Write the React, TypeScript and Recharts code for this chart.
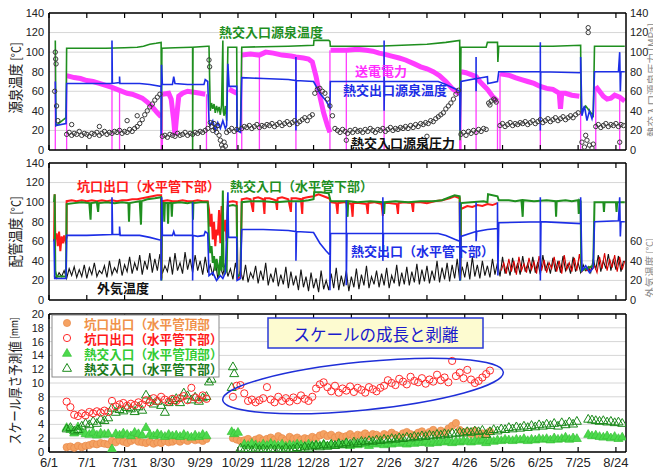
import React from 'react'
import { ComposedChart, Line, Scatter, XAxis, YAxis, CartesianGrid } from 'recharts'

type Pt = [number, number]
type GapPt = [number, number | null]

// x is days since 6/1
const dateLabels = ['6/1', '7/1', '7/31', '8/30', '9/29', '10/29', '11/28', '12/28', '1/27', '2/26', '3/27', '4/26', '5/26', '6/25', '7/25', '8/24']
const dayTicks = dateLabels.map((_, i) => i * 30)
const tempTicks = [0, 20, 40, 60, 80, 100, 120, 140]
const pipeRightTicks = [0, 20, 40, 60]
const scaleTicks = [0, 2, 4, 6, 8, 10, 12, 14, 16, 18, 20]

// ---- panel 1: source temperatures ----
const srcInletPts: Pt[] = [
  [5, 112], [5.5, 25], [13.5, 33], [14, 104], [30, 104], [45, 104], [60, 104.5], [70, 105], [75, 106], [80, 108], [85, 109], [89, 110],
  [89.3, 20], [89.6, 104], [100, 104.5], [113, 105], [114, 105], [114, 0], [114.3, 105], [126, 106], [127, 106],
  [128, 40], [129, 48], [130, 42], [131, 47], [132, 38], [133, 45], [134, 40], [135, 44], [136, 36], [137, 46], [138, 112], [138.3, 40], [139, 35], [140, 45], [141, 30],
  [142, 105], [149, 105], [149.3, 20], [152, 22], [153, 105], [170, 105.5], [190, 106], [210, 107], [210.3, 112], [222, 112], [223, 111], [223.3, 106],
  [240, 106], [260, 106], [280, 107], [300, 108], [315, 110], [326, 112], [326.3, 10], [327, 105], [347, 105], [348, 110], [356, 110], [356.3, 90], [357, 106],
  [380, 106], [400, 106], [422, 107], [422.3, 40], [426, 45], [432, 35], [433, 106], [445, 106], [457, 106],
]
const srcOutletPts: Pt[] = [
  [5, 70], [5.5, 25], [13.5, 27], [14, 68], [30, 68], [50, 68], [50, 112], [50.3, 68], [56, 69], [56, 75], [56.3, 68], [72, 68], [80, 67], [89, 65],
  [89, 15], [89.3, 87], [90, 67], [98, 67], [99, 75], [100, 68], [110, 67], [123, 67], [124, 72], [126, 70],
  [127, 30], [128, 25], [130, 30], [132, 20], [134, 28], [136, 22], [138, 30], [140, 22], [141, 25], [142, 88], [143, 65], [149, 65], [149.3, 20], [152, 18],
  [153, 74], [170, 73], [190, 72], [196, 71], [196, 95], [196, 20], [196.3, 71], [210, 70], [215, 58], [220, 50], [223, 43], [223.3, 70],
  [240, 70], [266, 70], [266, 112], [266, 40], [266.3, 70], [290, 70], [309, 70], [315, 67], [323, 62], [326, 60], [326.3, 20], [327, 70],
  [339, 73], [339, 95], [339, 60], [339.3, 73], [348, 75], [348.3, 68], [356, 70], [357, 80], [390, 80], [390, 110], [390, 20], [390.3, 80],
  [422, 79], [422, 95], [423, 35], [425, 45], [427, 30], [429, 40], [431, 32], [432, 38], [433, 80], [452, 80], [453, 100], [453.5, 60], [454, 80], [457, 80],
]
const powerPts: GapPt[] = [
  [14, 76], [20, 74], [25, 73], [30, 71], [35, 70], [40, 68], [45, 66], [50, 64], [56, 61], [62, 58], [66, 57], [70, 55], [74, 53], [78, 49], [82, 44], [86, 38], [89, 34], [89.5, null],
  [90, 57], [95, 58], [97, 52], [99, 30], [100, 15], [101, 30], [103, 55], [106, 58], [110, 60], [115, 59], [120, 58], [124, 57], [125, null],
  [143, 62], [146, 60], [149, 58], [150, null],
  [153, 97], [160, 98], [167, 97], [172, 100], [178, 99], [185, 97], [192, 96], [196, 95], [202, 94], [206, 93], [209, 90], [212, 75], [215, 55], [218, 38], [221, 25], [223, 18], [223.2, null],
  [223.5, 102], [230, 102], [236, 102], [245, 103], [252, 102], [257, 101], [262, 99], [266, 98], [272, 96], [278, 94], [283, 92], [290, 88], [295, 85], [300, 83], [305, 80], [310, 76], [315, 70], [320, 63], [323, 60], [326, 57], [326.5, null],
  [327, 80], [331, 79], [335, 77], [339, 75], [342, 70], [345, 66], [348, 62], [352, 55], [356, 50], [357, null],
  [358, 78], [362, 77], [366, 76], [370, 74], [375, 72], [380, 70], [385, 68], [390, 65], [395, 63], [400, 62], [405, 58], [406, 42], [407, 58], [410, 58], [415, 56], [421, 55], [422, null],
  [434, 65], [437, 60], [440, 55], [443, 52], [446, 53], [449, 56], [453, 54], [457, 50],
]
// days where power drops to zero, with the level it drops from
const powerDrops: Pt[] = [
  [5, 100], [14, 76], [50, 64], [56, 61], [89, 34], [90, 57], [125, 57], [149, 58], [153, 97], [167, 97], [196, 95], [223, 102], [236, 102],
  [266, 98], [326, 57], [327, 80], [339, 75], [356, 50], [358, 78], [390, 65], [422, 55], [434, 65], [453, 54],
]
// pressure, sampled every 2 days in runs
const pressRunA = [16, 18, 15, 17, 16, 19, 15, 17, 16, 14, 17, 16, 18, 15, 17, 19, 16, 18, 17, 19, 18, 20, 17, 19, 18, 21, 19, 22, 24, 27, 31, 36, 40, 44, 47, 51, 54, 57]
const pressRunB = [14, 15, 13, 16, 15, 14, 17, 15, 16, 18, 15, 17, 16, 18, 17, 19, 18, 20, 22]
const pressRunD = [22, 24, 23, 25, 22, 24, 26, 23, 25, 24, 26, 25, 27, 24, 26, 28, 25, 27, 29, 26, 28, 30, 27, 29, 31, 33, 30, 34, 36, 58, 62, 63, 60, 58, 52, 45, 35]
const pressRunE = [22, 20, 18, 21, 19, 17, 20, 18, 21, 19, 20, 18, 21, 19, 22, 20, 18, 21, 20, 22, 19, 21, 23, 20, 22, 21, 23, 22, 24, 22, 25, 23, 26, 24, 27, 26, 28, 27, 30, 29, 32, 34, 36, 38, 42, 45, 48, 52, 57, 61]
const pressRunF = [16, 18, 15, 19, 17, 20, 18, 21, 19, 22, 21]
const pressRunG = [25, 27, 24, 26, 28, 25, 27, 26, 28, 27, 29, 26, 28, 30, 27, 29, 31, 28, 30, 32, 29, 31, 33, 30, 32, 34, 31, 33, 35, 33, 36, 38]
const pressRunI = [24, 26, 23, 25, 27, 24, 26, 25, 27, 24, 26, 25]
const pressLoose: Pt[] = [
  [4.5, 60], [5, 100], [5.3, 93], [5.6, 88], [6, 45], [7, 30], [18, 26], [40, 24], [62, 30], [70, 35],
  [127, 92], [127.5, 85], [128, 28], [129, 24], [130, 20], [131, 27], [132, 22], [133, 18], [134, 25], [135, 15], [136, 10], [137, 5], [138, 2], [139, 8], [140, 4], [141, 18],
  [143, 20], [145, 22], [147, 19], [149, 21], [236, 10], [300, 14], [349, 48], [350, 46], [351, 50], [353, 52], [354, 51], [355, 49],
  [423, 8], [425, 3], [426, 15], [427, 10], [429, 5], [431, 2], [432, 6], [428, 125], [428, 120], [453, 8],
]

// ---- panel 2: pipe temperatures ----
const wellheadPts: Pt[] = [
  [4, 60], [4.5, 108], [5, 62], [6, 68], [7, 55], [8, 70], [9, 50], [10, 65], [11, 58], [12, 66], [13, 60], [14, 64],
  [14, 101], [18, 102], [22, 101], [26, 102], [30, 101], [34, 102], [38, 101], [42, 102], [46, 101], [50, 102], [54, 101], [58, 102], [62, 102], [66, 103], [70, 103], [74, 104], [78, 105], [82, 106], [86, 107], [89, 107],
  [89.3, 22], [89.7, 101], [94, 102], [98, 101], [102, 101], [106, 102], [110, 101], [114, 101], [118, 102], [122, 101], [126, 101],
  [127, 92], [128, 75], [129, 88], [130, 62], [131, 80], [132, 55], [133, 72], [134, 66], [135, 92], [136, 58], [137, 96], [138, 85], [139, 70], [140, 82], [141, 60],
  [142, 100], [146, 101], [149, 100], [149.5, 22], [152, 24],
  [153, 103], [157, 104], [160, 103], [162, 90], [162.5, 104], [166, 105], [170, 103], [171, 88], [171.5, 104], [175, 104], [180, 102], [181, 92], [181.5, 104], [185, 105], [190, 103], [192, 90], [192.5, 104], [196, 104], [200, 103], [201, 88], [201.5, 104], [205, 105], [210, 106], [214, 108], [218, 106], [222, 104],
  [223, 103], [223.5, 100], [228, 99], [229, 88], [229.5, 99], [234, 100], [240, 98], [241, 85], [241.5, 99], [246, 99], [252, 98], [253, 88], [253.5, 99], [258, 100], [264, 98], [265, 86], [265.5, 99], [270, 99], [276, 98], [277, 88], [277.5, 99], [282, 100], [288, 99], [289, 90], [289.5, 100], [295, 100], [300, 99], [306, 101], [312, 102], [318, 104], [322, 106], [326, 104],
  [326.5, 22], [327, 93], [332, 96], [336, 95], [340, 97], [344, 96], [348, 98], [352, 97], [356, 99],
]
const hxInletPts: Pt[] = [
  [4, 100], [4.5, 108], [5, 30], [6, 24], [13.5, 24],
  [14, 98], [20, 99], [26, 100], [32, 99], [33, 82], [33.5, 99], [38, 100], [39, 90], [39.5, 99], [46, 100], [52, 99], [58, 100], [63, 99], [63.5, 80], [64, 99], [68, 100], [72, 101], [73, 77], [73.5, 101], [78, 103], [84, 104], [89, 105],
  [89.3, 20], [89.7, 99], [91, 99], [91.5, 80], [92, 99], [94, 99], [94.5, 78], [95, 99], [97, 99], [97.5, 85], [98, 99], [104, 100], [110, 99], [114, 100], [114.3, 82], [114.6, 99], [120, 100], [126, 100],
  [127, 60], [128, 48], [129, 55], [130, 38], [131, 45], [132, 30], [133, 42], [134, 35], [135, 25], [136, 45], [137, 30], [138, 112], [138.5, 35], [140, 28], [141, 30],
  [142, 96], [146, 97], [149, 96], [149.5, 24], [152, 26],
  [153, 100], [160, 101], [170, 101], [180, 100], [190, 101], [200, 101], [206, 102], [210, 103], [210.5, 110], [216, 110], [222, 109], [223, 104], [223.5, 101],
  [230, 101], [236, 101], [237, 85], [237.5, 101], [245, 100], [255, 101], [265, 100], [266, 88], [266.5, 100], [275, 101], [285, 100], [295, 101], [305, 101], [312, 102], [318, 105], [322, 107], [326, 106],
  [326.5, 20], [327, 99], [335, 100], [345, 101], [348, 100], [348.5, 108], [356, 106], [357, 102], [365, 102], [370, 101], [375, 102], [376, 85], [376.5, 102], [385, 101], [395, 102], [402, 101], [402.5, 85], [403, 101], [410, 102], [415, 101], [420, 102], [420.5, 88], [421, 102], [422, 101],
  [422.5, 30], [432, 35], [433, 100], [440, 100], [440.5, 90], [441, 100], [450, 100], [450.5, 90], [451, 100], [457, 100],
]
const hxOutletPts: Pt[] = [
  [4, 62], [4.5, 22], [13.5, 22], [14, 66], [30, 66], [50, 67], [50, 105], [50.5, 67], [56, 67], [56, 75], [56.5, 66], [72, 66], [80, 64], [89, 61],
  [89, 20], [89.5, 105], [90, 66], [98, 66], [99, 70], [100, 66], [114, 66], [114, 100], [114, 20], [114.3, 66], [118, 65], [123, 66], [124, 70], [126, 68],
  [127, 25], [130, 28], [133, 20], [136, 25], [138, 22], [140, 28], [142, 110], [142.5, 64], [149, 64], [149.3, 20], [152, 22],
  [153, 72], [170, 72], [190, 71], [196, 70], [196, 100], [196, 40], [196.5, 70], [210, 69], [215, 58], [220, 50], [223, 46], [223, 100], [223, 10], [223.5, 68],
  [236, 68], [236, 102], [236, 15], [236.5, 68], [250, 68], [265, 68], [265, 105], [265, 40], [265.5, 68], [290, 68], [309, 68], [315, 66], [322, 62], [326, 60], [326, 100], [326.3, 20],
  [327, 65], [339, 70], [339, 100], [339, 60], [339.5, 70], [348, 72], [356, 73], [356, 100], [356.3, 25], [357, 79], [390, 80], [390, 105], [390, 20], [390.5, 80],
  [422, 78], [422, 105], [423, 30], [426, 35], [429, 28], [432, 33], [433, 80], [452, 81], [453, 105], [453.5, 65], [454, 80], [457, 80],
]
// outdoor air, every 2 days from day 4
const outdoorVals = [
  25, 22, 28, 24, 30, 22, 32, 25, 34, 23, 31, 24, 36, 22, 33, 26, 38, 24, 30, 27,
  35, 23, 40, 26, 33, 28, 42, 25, 36, 29, 44, 27, 38, 30, 46, 26, 40, 31, 48, 28,
  42, 30, 47, 27, 35, 29, 44, 26, 48, 30, 38, 27, 49, 31, 42, 28, 46, 30, 40, 26,
  44, 28, 36, 25, 40, 22, 34, 26, 38, 24, 32, 21, 38, 23, 30, 20, 36, 18, 28, 22,
  35, 17, 30, 20, 38, 15, 27, 18, 33, 14, 26, 16, 34, 12, 29, 15, 25, 10, 31, 13,
  24, 9, 28, 12, 22, 8, 30, 11, 20, 10, 27, 12, 33, 10, 25, 14, 30, 9, 24, 13,
  32, 11, 26, 15, 35, 12, 24, 16, 30, 13, 27, 15, 33, 12, 25, 17, 36, 14, 28, 16,
  34, 15, 29, 18, 37, 16, 31, 19, 35, 17, 30, 20, 40, 18, 33, 21, 38, 19, 36, 22,
  42, 20, 34, 23, 39, 21, 44, 24, 36, 22, 40, 25, 35, 23, 42, 26, 38, 24, 44, 27,
  36, 25, 43, 28, 38, 26, 45, 29, 37, 27, 44, 28, 39, 26, 46, 30, 38, 27, 43, 29,
  40, 28, 45, 30, 37, 27, 44, 29, 38, 28, 36, 30, 34, 28, 42, 31, 46, 29, 40, 32,
  47, 30, 42, 31, 45, 29, 40,
]
// wellhead sensor after 5/26, every 2 days from day 359
const wellheadLowVals = [
  30, 38, 27, 42, 29, 40, 26, 44, 30, 37, 28, 43, 31, 39, 27, 45, 30, 41, 28, 38,
  32, 44, 29, 40, 27, 46, 31, 38, 29, 43, 30, 47, 29, 33, 30, 32, 31, 35, 28, 44,
  32, 48, 30, 42, 33, 46, 29, 44, 31, 40,
]

// ---- panel 3: scale thickness, every 3 days ----
const topWellA = [0.7, 0.8, 0.6, 0.9, 0.7, 0.9, 1.0, 1.2, 1.1, 1.3, 1.2, 1.1, 1.6, 1.4, 1.7, 1.5, 1.3, 1.6, 1.8, 1.5, 1.4, 1.3, 1.5, 1.2, 1.4, 1.3, 1.6, 1.4, 1.5, 1.7, 1.5, 1.8, 1.6, 1.9, 1.7, 1.8, 1.6, 1.9]
const topWellB = [
  2.0, 1.8, 1.6, 1.7, 1.9, 1.5, 1.8, 2.0, 1.7, 1.9, 2.1, 1.8, 2.3, 2.0, 1.7, 2.2, 1.9, 2.1, 1.8, 2.0,
  1.9, 2.2, 2.0, 2.4, 2.6, 2.3, 2.5, 2.1, 2.4, 2.2, 2.3, 2.6, 2.2, 2.5, 2.4, 2.7, 2.3, 2.6, 2.5, 2.2,
  2.6, 2.4, 2.8, 2.5, 2.3, 2.7, 2.9, 2.6, 2.4, 2.8, 3.0, 2.6, 2.9, 3.2, 2.7, 3.1, 2.8, 3.4, 3.8, 4.2,
  3.2, 2.8, 3.0, 2.6, 3.1, 2.4, 2.7, 2.5, 3.0,
]
const botWellA = [7.3, 6.5, 5.4, 5.2, 5.6, 5.3, 5.8, 5.6, 5.9, 5.7, 6.0, 5.8, 7.4, 6.6, 6.9, 7.1, 6.7, 7.0, 6.8, 7.2, 6.9, 7.5, 7.2, 7.8, 7.4, 8.0, 7.6, 7.3, 7.7, 7.4, 7.8, 8.1, 7.5, 9.3, 7.9, 7.6, 8.2, 7.7]
const botWellB = [
  8.0, 9.6, 9.7, 8.5, 7.4, 7.6, 7.2, 7.5, 7.8, 9.4, 7.6, 7.2, 8.0, 7.4, 7.8, 7.3, 7.9, 7.5, 8.2, 7.7,
  7.4, 8.0, 9.2, 9.8, 10.1, 9.4, 8.8, 9.6, 8.6, 9.2, 8.9, 9.5, 8.7, 9.3, 9.0, 8.6, 9.4, 9.1, 8.8, 9.3,
  9.6, 10.4, 10.0, 9.7, 10.6, 10.2, 9.8, 10.9, 10.3, 10.1, 10.7, 9.9, 10.5, 10.2, 11.2, 10.4, 10.8, 10.1, 13.2, 11.0,
  11.5, 10.7, 11.9, 10.5, 10.0, 10.3, 10.8, 11.3, 11.8,
]
const topHxA = [3.6, 3.3, 2.8, 3.7, 3.0, 2.7, 2.6, 2.9, 2.5, 2.8, 2.6, 2.7, 0.5, 2.7, 2.5, 2.8, 2.6, 2.4, 2.9, 2.7, 2.5, 3.6, 2.6, 2.4, 2.7, 2.5, 2.3, 2.6, 2.4, 2.5, 2.3, 2.6, 2.4, 2.2, 2.5, 2.3, 2.6, 2.4]
const topHxB = [
  1.2, 1.0, 1.3, 1.1, 0.9, 1.2, 1.0, 1.3, 1.1, 1.0, 1.2, 0.9, 1.1, 1.0, 1.2, 1.1, 0.9, 1.2, 1.0, 1.1,
  1.0, 1.2, 0.9, 1.1, 1.0, 1.2, 1.1, 1.3, 1.0, 1.2, 1.1, 1.3, 1.2, 1.0, 1.3, 1.2, 1.4, 1.1, 1.3, 1.2,
  1.4, 1.3, 1.5, 1.2, 1.4, 1.3, 1.5, 1.4, 1.6, 1.3, 1.5, 1.4, 1.6, 1.5, 1.7, 1.4, 1.6, 1.5, 1.7, 1.6,
  1.5, 1.7, 1.6, 1.8, 1.4, 1.7, 1.6, 1.8, 1.7, 1.9, 1.8, 1.7, 1.9, 1.8, 2.0, 1.7, 1.9, 1.8, 2.0, 1.9,
  2.0, 1.8, 2.1, 1.9, 2.0, 2.2, 1.9, 2.1, 2.0,
]
const topHxC = [2.6, 2.4, 2.5, 2.3, 2.2, 2.4, 2.1, 2.3, 2.0, 2.2]
const topHxLoose: Pt[] = [[145, 3.0], [147, 2.7], [150, 2.9]]
const botHxA = [3.4, 3.6, 3.1, 3.3, 3.8, 4.2, 4.0, 4.5, 4.2, 4.8, 4.6, 5.0, 6.4, 5.8, 6.2, 6.0, 6.5, 6.3, 5.9, 6.6, 6.1, 8.3, 7.6, 7.0, 7.4, 6.8, 5.8, 7.2, 7.5, 7.8, 7.2, 8.6, 8.2, 7.6, 8.0, 7.4, 7.9, 8.1]
const botHxB = [
  0.6, 0.4, 0.5, 0.3, 0.6, 0.4, 0.5, 0.3, 0.5, 0.4, 0.5, 0.3, 0.6, 0.4, 0.5, 0.7, 0.5, 0.8, 0.6, 0.9,
  1.0, 0.8, 1.1, 0.9, 1.2, 1.0, 1.3, 1.1, 1.4, 1.2, 1.5, 1.3, 1.6, 1.5, 1.7, 1.6, 1.8, 1.7, 1.9, 1.8,
  2.0, 1.9, 2.1, 2.0, 2.2, 2.1, 2.3, 2.2, 2.4, 2.3, 2.5, 2.4, 2.6, 2.5, 2.7, 2.6, 2.8, 2.7, 2.9, 2.8,
  3.0, 2.9, 3.1, 3.0, 3.2, 2.6, 3.0, 3.3, 3.1, 3.4, 3.3, 3.6, 3.4, 3.7, 3.5, 3.8, 3.6, 3.9, 3.7, 4.0,
  3.8, 4.1, 3.9, 4.2, 3.8, 4.3, 4.0, 4.4, 4.1, 4.5,
]
const botHxC = [4.8, 4.7, 4.6, 4.5, 4.6, 4.4, 4.5, 4.3, 4.4, 4.2]
const botHxLoose: Pt[] = [[127, 10.2], [129, 10.6], [145, 9.4], [146, 12.4], [147, 11.4]]

const W = 653
const H = 470
const DAY_MAX = 458
const JP = '"Noto Sans CJK JP", sans-serif'

const fromPts = (pts: GapPt[]) => pts.map(([x, y]) => ({ x, y }))
const fromStep = (start: number, step: number, vals: number[]) => vals.map((y, i) => ({ x: start + i * step, y }))
const dropLines = (pts: Pt[]) => pts.flatMap(([x, y]) => [{ x, y }, { x, y: 0 }, { x, y: null }])

const pressureData = [
  ...fromStep(14, 2, pressRunA), ...fromStep(90, 2, pressRunB), ...fromStep(153, 2, pressRunD), ...fromStep(227, 2, pressRunE),
  ...fromStep(327, 2, pressRunF), ...fromStep(358, 2, pressRunG), ...fromStep(434, 2, pressRunI), ...fromPts(pressLoose),
]

const EmptyTick = () => <g />
const DateTick = (p: any) => (
  <text x={p.x} y={p.y + 20} textAnchor="middle" fontSize={13} fill="#222">
    {dateLabels[Math.round(p.payload.value / 30)]}
  </text>
)

const ring = (p: any) => <circle cx={p.cx} cy={p.cy} r={2.2} fill="none" stroke="#3a3a3a" strokeWidth={1} />
const dotFilled = (p: any) => <circle cx={p.cx} cy={p.cy} r={3.6} fill="#f5a262" stroke="#e8894a" strokeWidth={0.7} />
const dotOpen = (p: any) => <circle cx={p.cx} cy={p.cy} r={3.6} fill="none" stroke="#ff2a2a" strokeWidth={1} />
const triPoints = (cx: number, cy: number) => `${cx},${cy - 4.5} ${cx - 4.5},${cy + 3.3} ${cx + 4.5},${cy + 3.3}`
const triFilled = (p: any) => <polygon points={triPoints(p.cx, p.cy)} fill="#4cd94c" stroke="#36c236" strokeWidth={0.7} />
const triOpen = (p: any) => <polygon points={triPoints(p.cx, p.cy)} fill="none" stroke="#1a8a1a" strokeWidth={1} />

const frame = { stroke: '#000', strokeWidth: 1.5 }

function Panel(props: { top: number; bottom: number; yMax: number; yTicks: number[]; rightTicks: number[] | null; dates?: boolean; children: React.ReactNode }) {
  const { top, bottom, yMax, yTicks, rightTicks, dates, children } = props
  return (
    <div style={{ position: 'absolute', left: 0, top: 0 }}>
      <ComposedChart width={W} height={H} margin={{ top: top - 1, bottom: H - bottom - 1, left: 0, right: 0 }}>
        <CartesianGrid vertical={false} stroke="#d6d6d6" />
        <XAxis dataKey="x" type="number" domain={[0, DAY_MAX]} ticks={dayTicks} interval={0} height={1} tickSize={-5} tickMargin={0}
          axisLine={frame} tickLine={{ stroke: '#000', strokeWidth: 1.2 }} tick={dates ? DateTick : EmptyTick} allowDataOverflow />
        <XAxis xAxisId="top" orientation="top" dataKey="x" type="number" domain={[0, DAY_MAX]} ticks={dayTicks} interval={0} height={1} tickSize={-5}
          axisLine={frame} tickLine={{ stroke: '#000', strokeWidth: 1.2 }} tick={EmptyTick} allowDataOverflow />
        <YAxis dataKey="y" type="number" domain={[0, yMax]} ticks={yTicks} interval={0} width={49} tickSize={0} tickMargin={5}
          axisLine={frame} tickLine={false} tick={{ fontSize: 11, fill: '#222' }} allowDataOverflow />
        <YAxis yAxisId="r" orientation="right" dataKey="y" type="number" domain={[0, yMax]} ticks={rightTicks ?? yTicks} interval={0} width={27}
          tickSize={0} tickMargin={4} axisLine={frame} tickLine={false} tick={rightTicks ? { fontSize: 11, fill: '#222', textAnchor: 'start' } : EmptyTick} allowDataOverflow />
        {children}
      </ComposedChart>
    </div>
  )
}

const label = (x: number, y: number, text: string, color: string, size = 13) => (
  <text x={x} y={y} fill={color} fontSize={size} fontWeight={700} fontFamily={JP} dominantBaseline="central">{text}</text>
)

export default function App() {
  return (
    <div style={{ position: 'absolute', left: 0, top: 0, width: W, height: H, background: '#fff', fontFamily: '"Liberation Sans", Arial, sans-serif', overflow: 'hidden' }}>
      <Panel top={13} bottom={150} yMax={140} yTicks={tempTicks} rightTicks={tempTicks}>
        <Line data={fromPts(powerPts)} dataKey="y" stroke="#ff3cff" strokeWidth={5} dot={false} isAnimationActive={false} />
        <Line data={dropLines(powerDrops)} dataKey="y" stroke="#ff3cff" strokeWidth={1.3} dot={false} isAnimationActive={false} />
        <Scatter data={pressureData} dataKey="y" shape={ring} isAnimationActive={false} />
        <Line data={fromPts(srcInletPts)} dataKey="y" stroke="#1f8f1f" strokeWidth={1.6} dot={false} isAnimationActive={false} />
        <Line data={fromPts(srcOutletPts)} dataKey="y" stroke="#1c2ee6" strokeWidth={1.6} dot={false} isAnimationActive={false} />
      </Panel>
      <Panel top={163} bottom={300} yMax={140} yTicks={tempTicks} rightTicks={pipeRightTicks}>
        <Line data={fromStep(4, 2, outdoorVals)} dataKey="y" stroke="#141414" strokeWidth={1.1} dot={false} isAnimationActive={false} />
        <Line data={fromStep(359, 2, wellheadLowVals)} dataKey="y" stroke="#d80000" strokeWidth={1.1} dot={false} isAnimationActive={false} />
        <Line data={fromPts(wellheadPts)} dataKey="y" stroke="#ff1a1a" strokeWidth={2} dot={false} isAnimationActive={false} />
        <Line data={fromPts(hxInletPts)} dataKey="y" stroke="#1f8f1f" strokeWidth={2} dot={false} isAnimationActive={false} />
        <Line data={fromPts(hxOutletPts)} dataKey="y" stroke="#1c2ee6" strokeWidth={1.6} dot={false} isAnimationActive={false} />
      </Panel>
      <Panel top={314} bottom={452} yMax={20} yTicks={scaleTicks} rightTicks={null} dates>
        <Scatter data={[...fromStep(14, 3, topWellA), ...fromStep(146, 3, topWellB)]} dataKey="y" shape={dotFilled} isAnimationActive={false} />
        <Scatter data={[...fromStep(155, 3, topHxB), ...fromStep(428, 3, topHxC), ...fromStep(14, 3, topHxA), ...fromPts(topHxLoose)]} dataKey="y" shape={triFilled} isAnimationActive={false} />
        <Scatter data={[...fromStep(14, 3, botHxA), ...fromStep(152, 3, botHxB), ...fromStep(428, 3, botHxC), ...fromPts(botHxLoose)]} dataKey="y" shape={triOpen} isAnimationActive={false} />
        <Scatter data={[...fromStep(14, 3, botWellA), ...fromStep(146, 3, botWellB)]} dataKey="y" shape={dotOpen} isAnimationActive={false} />
      </Panel>

      <svg width={W} height={H} style={{ position: 'absolute', left: 0, top: 0, pointerEvents: 'none' }}>
        {/* axis titles, glyphs slightly widened like the source figure */}
        <text transform="translate(14,78) rotate(-90) scale(1,1.2)" textAnchor="middle" dominantBaseline="central" fontFamily={JP} fontSize={12.5} fill="#222">
          源泉温度 <tspan fontSize={11}>[°C]</tspan>
        </text>
        <text transform="translate(14,232) rotate(-90) scale(1,1.2)" textAnchor="middle" dominantBaseline="central" fontFamily={JP} fontSize={12.5} fill="#222">
          配管温度 <tspan fontSize={11}>[°C]</tspan>
        </text>
        <text transform="translate(14,381) rotate(-90) scale(1,1.2)" textAnchor="middle" dominantBaseline="central" fontFamily={JP} fontSize={11.5} fill="#222">
          スケール厚さ予測値 <tspan fontSize={8.5}>[mm]</tspan>
        </text>
        <text transform="translate(651,80) rotate(-90)" textAnchor="middle" dominantBaseline="central" fontFamily={JP} fontSize={10.5} fill="#888">
          熱交入口源泉圧力 [MPa]
        </text>
        <text transform="translate(649,268) rotate(-90)" textAnchor="middle" dominantBaseline="central" fontFamily={JP} fontSize={10.5} fill="#888">
          外気温度 <tspan fontSize={9}>[°C]</tspan>
        </text>

        {/* series labels */}
        {label(219, 31, '熱交入口源泉温度', '#1f8f1f')}
        {label(355, 70, '送電電力', '#ff2cff')}
        {label(343, 89, '熱交出口源泉温度', '#1c2ee6')}
        {label(351, 142, '熱交入口源泉圧力', '#111')}
        {label(77, 185, '坑口出口（水平管下部）', '#ff1a1a')}
        {label(230, 185, '熱交入口（水平管下部）', '#1f8f1f')}
        {label(351, 250, '熱交出口（水平管下部）', '#1c2ee6')}
        {label(97, 287, '外気温度', '#111')}

        {/* legend */}
        <rect x={52} y={315} width={167} height={62} fill="#fff" stroke="#8a8a8a" strokeWidth={1} />
        {dotFilled({ cx: 67, cy: 323 })}
        {dotOpen({ cx: 67, cy: 338 })}
        {triFilled({ cx: 67, cy: 353 })}
        {triOpen({ cx: 67, cy: 368 })}
        {label(84, 323, '坑口出口（水平管頂部', '#f0924a', 12.6)}
        {label(84, 338, '坑口出口（水平管下部）', '#ff1a1a', 12.6)}
        {label(84, 353, '熱交入口（水平管頂部）', '#33cc33', 12.6)}
        {label(84, 368, '熱交入口（水平管下部）', '#1a7a1a', 12.6)}

        {/* annotation */}
        <rect x={268} y={318} width={215} height={30} fill="#fdfbd0" stroke="#2a3ad6" strokeWidth={1.5} />
        <text x={376} y={333.5} textAnchor="middle" dominantBaseline="central" fontFamily={JP} fontSize={16.5} fill="#1a1acc">スケールの成長と剥離</text>
        <ellipse cx={363} cy={386} rx={141} ry={24} transform="rotate(-5.7 363 386)" fill="none" stroke="#1f2fd8" strokeWidth={1.5} />
      </svg>
    </div>
  )
}
